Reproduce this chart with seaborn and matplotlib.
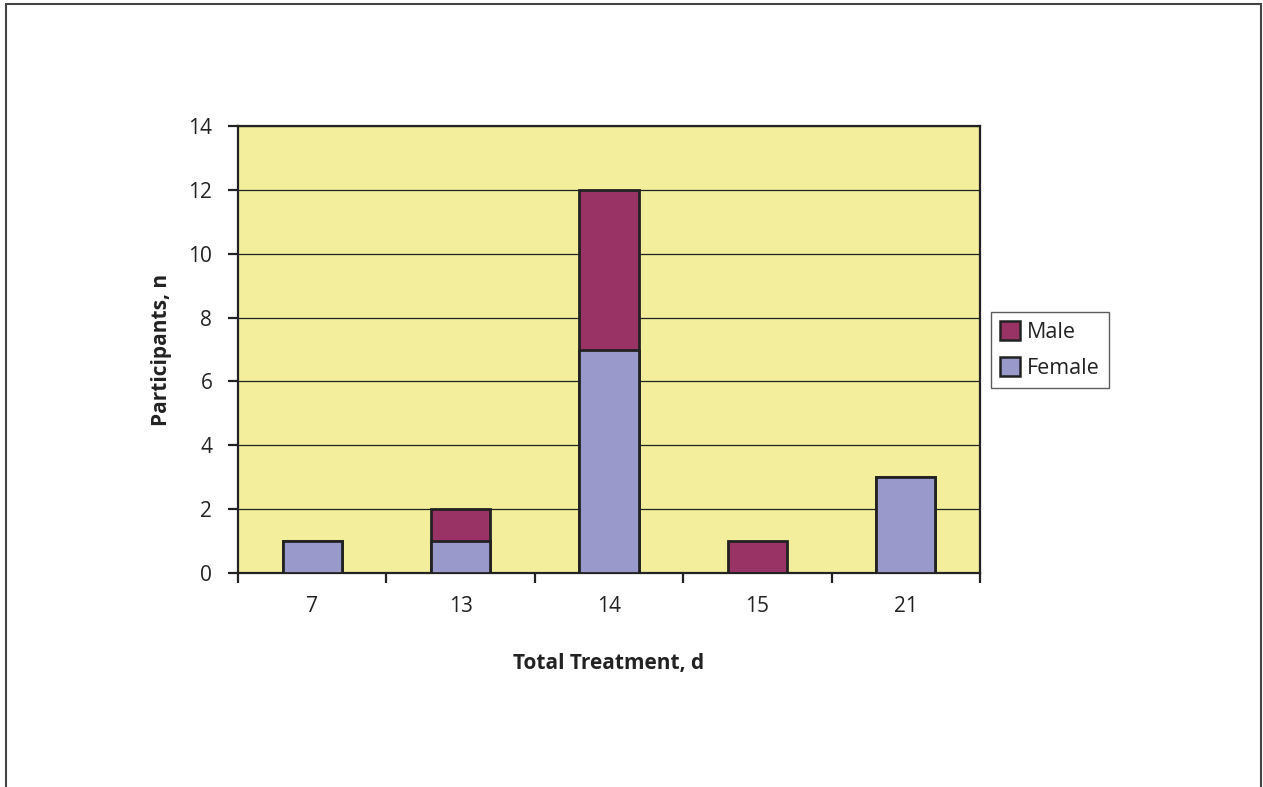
import matplotlib
matplotlib.use("Agg")
import matplotlib.pyplot as plt
from matplotlib.patches import Patch
from matplotlib.lines import Line2D
import seaborn as sns
import pandas as pd
import numpy as np

# Treatment duration (days) and participant counts by sex
days = ["7", "13", "14", "15", "21"]
female = [1, 1, 7, 0, 3]
male = [0, 1, 5, 1, 0]

male_color = "#993366"
female_color = "#9999CC"
plot_bg = "#F2EE9C"
ink = "#222222"

sns.set_theme(style="white")
plt.rcParams["font.family"] = ["Open Sans", "DejaVu Sans"]

totals = [f + m for f, m in zip(female, male)]
df = pd.DataFrame({"day": days, "female": female, "male": male, "total": totals})

fig = plt.figure(figsize=(12.63, 7.87), dpi=100)
ax = fig.add_axes([238 / 1263, 214 / 787, 742 / 1263, 447 / 787])
ax.set_facecolor(plot_bg)

# Stacked bars: full height in the male colour, female share drawn over it
sns.barplot(data=df, x="day", y="total", order=days, color=male_color,
            saturation=1, width=0.4, edgecolor=ink, linewidth=2,
            ax=ax, zorder=3)
sns.barplot(data=df, x="day", y="female", order=days, color=female_color,
            saturation=1, width=0.4, edgecolor=ink, linewidth=2,
            ax=ax, zorder=4)

ax.set_ylim(0, 14)
ax.set_xlim(-0.5, len(days) - 0.5)
ax.set_yticks(np.arange(0, 15, 2))
ax.yaxis.grid(True, color=ink, linewidth=0.9)
ax.set_axisbelow(True)

# Category boundary ticks below the axis, labels centred under bars
ax.set_xticks(np.arange(-0.5, len(days), 1.0))
ax.set_xticklabels([])
ax.set_xticks(np.arange(len(days)), minor=True)
ax.set_xticklabels(days, minor=True)
ax.tick_params(axis="x", which="major", direction="out", length=7,
               width=1.6, color=ink, bottom=True)
ax.tick_params(axis="x", which="minor", length=0, pad=16.5,
               labelsize=15, labelcolor=ink)
ax.tick_params(axis="y", direction="out", length=7, width=1.6,
               color=ink, left=True, pad=11.5, labelsize=15,
               labelcolor=ink)

for s in ax.spines.values():
    s.set_visible(True)
    s.set_color(ink)
    s.set_linewidth(1.6)

ax.set_xlabel("Total Treatment, d", fontsize=15, fontweight="bold", color=ink)
ax.set_ylabel("Participants, n", fontsize=15, fontweight="bold", color=ink)
ax.xaxis.set_label_coords(0.5, -0.179)
ax.yaxis.set_label_coords(-0.089, 0.5)

handles = [Patch(facecolor=male_color, edgecolor=ink, linewidth=1.8, label="Male"),
           Patch(facecolor=female_color, edgecolor=ink, linewidth=1.8, label="Female")]
leg = fig.legend(handles=handles, loc="upper left",
                 bbox_to_anchor=(991 / 1263, 1 - 312 / 787),
                 bbox_transform=fig.transFigure, frameon=True, fancybox=False,
                 fontsize=15.5, handlelength=0.95, handleheight=0.95,
                 handletextpad=0.3, borderpad=0.42, labelspacing=0.68,
                 borderaxespad=0)
leg.get_frame().set_edgecolor("#333333")
leg.get_frame().set_linewidth(1.0)
for t in leg.get_texts():
    t.set_color(ink)

# Outer frame (left, top, right)
fx0, fx1, fy1 = 6 / 1263, 1261 / 1263, 1 - 4 / 787
for xs, ys in [([fx0, fx0], [0, fy1]), ([fx0, fx1], [fy1, fy1]), ([fx1, fx1], [fy1, 0])]:
    fig.add_artist(Line2D(xs, ys, transform=fig.transFigure,
                          color="#444444", linewidth=1.5))

fig.savefig("out.png", dpi=100)
